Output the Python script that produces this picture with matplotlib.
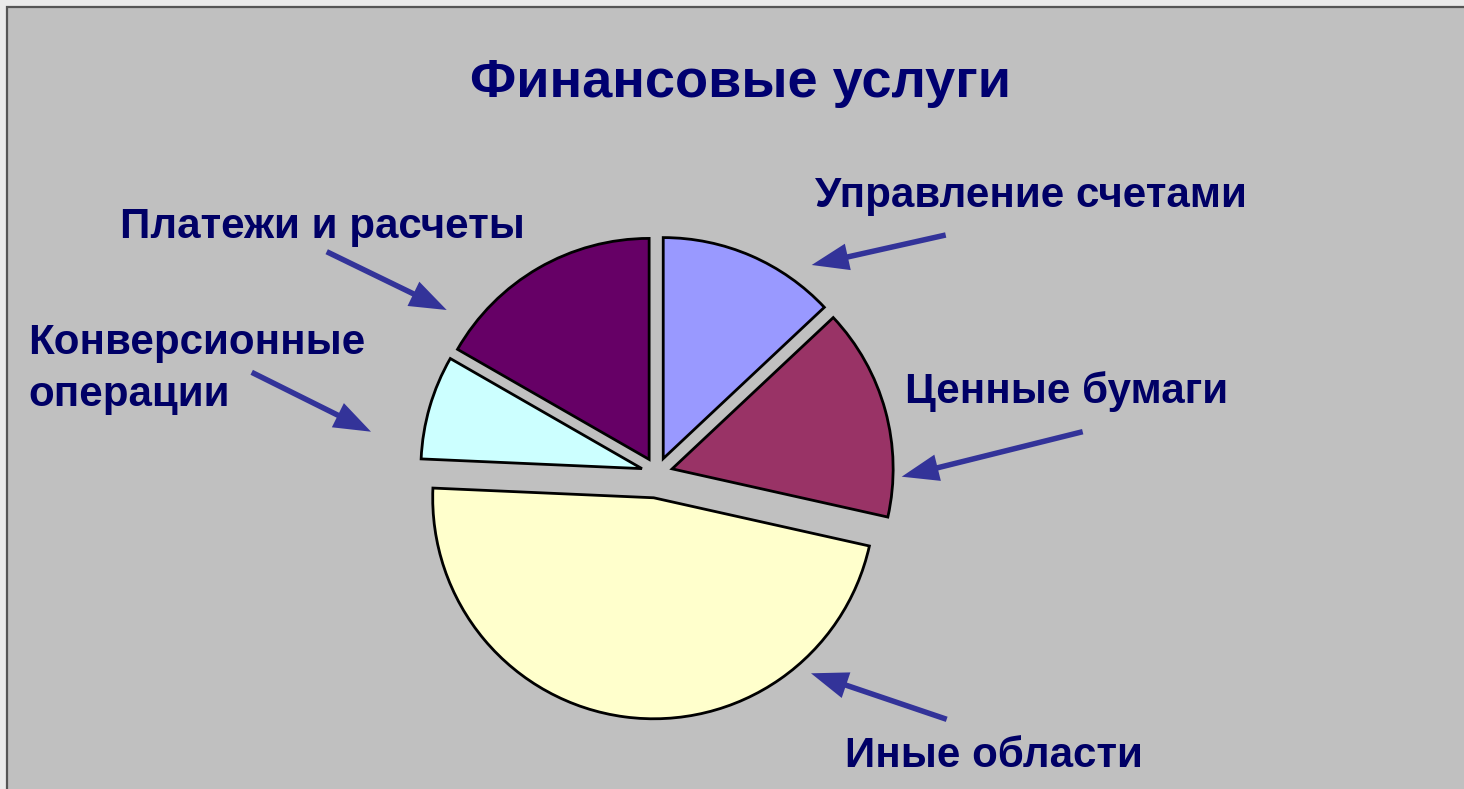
import matplotlib
matplotlib.use("Agg")
import matplotlib.pyplot as plt
from matplotlib.patches import Rectangle

# данные (доли, оценены по картинке)
categories = ["Управление счетами", "Ценные бумаги", "Иные области",
              "Конверсионные операции", "Платежи и расчеты"]
shares = [13.0, 15.5, 47.2, 7.6, 16.7]
colors = ["#9999FF", "#993366", "#FFFFCC", "#CCFFFF", "#660066"]
explode = [15.7, 15.7, 25.0, 15.7, 15.7]

TITLE = "Финансовые услуги"
W, H = 1464, 789

plt.rcParams['font.family'] = ['Liberation Sans', 'DejaVu Sans']

fig = plt.figure(figsize=(W / 100, H / 100), dpi=100, facecolor="#EAEAEA")
ax = fig.add_axes([0, 0, 1, 1])


def Y(y):
    # пиксели сверху -> координаты снизу
    return H - y


ax.pie(shares, colors=colors, explode=explode, startangle=90, counterclock=False,
       radius=221, center=(657, Y(473)),
       wedgeprops=dict(edgecolor="black", linewidth=2.0))

ax.set_xlim(0, W)
ax.set_ylim(0, H)
ax.set_aspect("equal")
ax.axis("off")

# фон и рамка
ax.add_patch(Rectangle((7, -10), W + 10, Y(7) + 10, facecolor="#C0C0C0",
                       edgecolor="#555555", linewidth=1.6, zorder=-5))

text_color = "#000066"
arrow_color = "#333399"

ax.text(470, Y(97), TITLE, fontsize=39, fontweight="bold", color="#000070",
        ha="left", va="baseline")

# подписи: (текст, x, y базовой линии)
labels = [
    ("Управление счетами", 815, 207),
    ("Платежи и расчеты", 120, 238),
    ("Конверсионные\nоперации", 28, 405.7),
    ("Ценные бумаги", 905, 403),
    ("Иные области", 845, 767),
]
for txt, x, y in labels:
    ax.text(x, Y(y), txt, fontsize=30.3, fontweight="bold", color=text_color,
            ha="left", va="baseline", linespacing=1.39)

# стрелки: (хвост, острие)
arrows = [
    ((945.7, 235), (811.7, 265)),
    ((326.7, 251.7), (446.7, 310)),
    ((251.7, 372.3), (371, 431.7)),
    ((1082.7, 431.7), (901.7, 476.7)),
    ((946.7, 719.3), (811, 673.3)),
]
for (x0, y0), (x1, y1) in arrows:
    ax.arrow(x0, Y(y0), x1 - x0, Y(y1) - Y(y0), width=5.5, head_width=27,
             head_length=37, length_includes_head=True, color=arrow_color,
             linewidth=0)

fig.savefig("out.png", dpi=100, facecolor=fig.get_facecolor())
